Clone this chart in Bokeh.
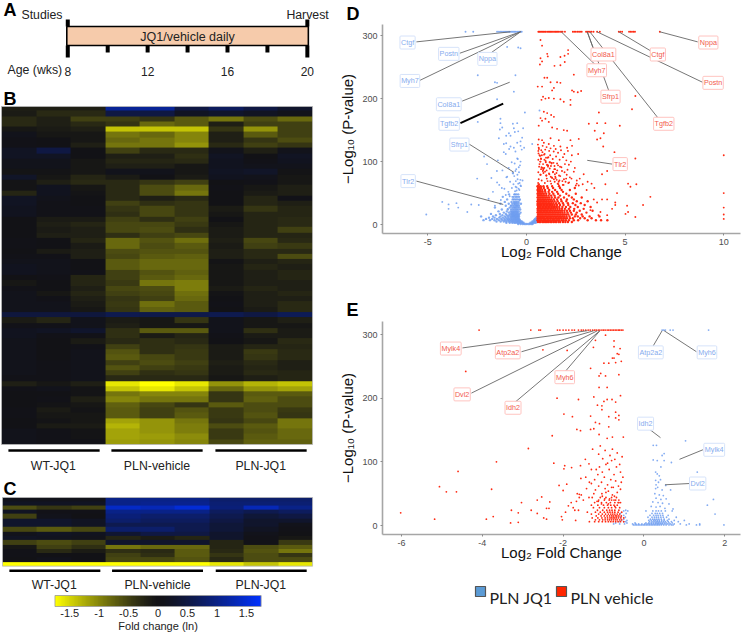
import numpy as np
from bokeh.plotting import figure
from bokeh.layouts import row, column
from bokeh.models import Range1d, Label, LinearColorMapper, FixedTicker
from bokeh.core.properties import value
from bokeh.embed import file_html
from bokeh.resources import INLINE

# ---------- A: timeline ----------
weeks_major = [8, 12, 16, 20]
weeks_minor = [10, 14, 18]
treatment = "JQ1/vehicle daily"

# ---------- B, C: heat maps (natural log fold change), top row first ----------
groups = ["WT-JQ1", "PLN-vehicle", "PLN-JQ1"]
heat_b = [
[-.2,-.2,-.2,1.1,1.1,.5,.7,.5,.3],[-.15,-.3,-.3,.5,.5,.2,.3,.2,.1],[-.3,-.2,-.5,-.5,-.4,-.7,-.9,-.6,-.8],
[-.3,-.2,-.3,-.4,-.8,-.7,-.2,-.5,-.5],[-.1,-.15,-.2,-1.4,-1.4,-1.4,-.4,-1.1,-.5],[.1,-.1,-.1,-.9,-.8,-1,-.2,-.7,-.5],
[.05,0,-.1,-.8,-.9,-1,-.2,-.4,-.6],[.05,0,-.2,-.9,-.9,-1.1,-.3,-.5,-.4],[.2,.5,0,-.5,-.3,-.3,.1,-.2,.1],
[.2,.2,0,-.2,-.2,-.35,.2,0,.2],[.1,.1,-.1,-.25,-.25,-.3,.15,.05,.15],[.1,.1,-.1,-.2,-.2,-.1,.15,.1,.1],
[-.05,-.05,-.1,.1,.1,-.1,.2,.25,-.05],[.25,-.1,-.25,-.15,0,-.15,.15,.1,-.1],[-.05,-.2,-.3,-.3,-.4,-.5,0,.05,-.1],
[-.05,.15,-.1,-.3,-.6,-.8,.05,-.1,-.2],[-.25,.15,-.05,-.3,-.6,-.9,0,-.15,-.2],[.2,.1,0,-.3,-.2,-.3,0,-.25,.05],
[.2,.05,0,-.5,-.35,-.4,0,-.25,-.2],[.15,.05,.05,-.4,-.55,-.4,-.15,-.4,-.25],[.15,.05,.05,-.35,-.55,-.4,-.1,-.25,-.25],
[0,-.15,-.15,-.5,-.35,-.5,0,-.25,-.3],[0,-.2,-.25,-.55,-.55,-.45,-.1,-.25,-.3],[0,-.15,-.2,-.55,-.6,-.35,-.15,-.25,-.5],
[0,-.2,-.2,-.35,-.5,-.55,-.15,-.25,-.25],[.05,0,-.25,-.8,-.65,-.85,-.2,-.55,-.3],[.05,0,-.15,-.8,-.6,-.7,-.15,-.5,-.45],
[0,-.15,-.2,-.6,-.65,-.65,-.2,-.3,-.3],[.05,.05,-.2,-.55,-.7,-.75,-.2,-.3,-.6],[.1,.1,0,-.7,-.8,-.8,-.05,-.2,-.25],
[.15,.1,0,-.7,-.8,-.8,-.1,-.25,-.2],[.15,.1,.05,-.5,-.65,-.75,-.1,-.2,-.25],[0,.05,-.25,-.5,-.7,-.8,-.1,-.2,-.25],
[-.1,0,-.25,-.45,-.9,-.95,-.1,-.2,-.2],[.05,0,-.2,-.55,-.6,-.95,-.15,-.25,-.2],[.1,-.1,-.25,-.5,-.55,-.85,-.05,-.2,-.25],
[.1,.05,-.2,-.4,-.5,-.8,0,-.2,-.2],[.1,.1,-.15,-.45,-.85,-.7,.05,-.2,-.3],[.1,.1,-.1,-.4,-.75,-.7,0,-.15,-.3],
[.45,.45,.45,.6,.55,.55,.6,.5,.65],[-.15,-.25,.1,-.15,-.1,-.4,.1,-.1,-.2],[.05,.05,.1,-.2,-.1,-.1,.1,-.1,-.1],
[.15,.2,.3,-.35,-.7,-.7,.1,-.35,-.15],[.15,.05,.05,-.35,-.15,-.25,.05,-.15,-.15],[.1,0,-.15,-.3,-.35,-.3,0,-.1,-.3],
[.1,0,.05,-.5,-.35,-.4,-.15,-.25,-.25],[.1,0,.1,-.65,-.35,-.45,-.15,-.45,-.3],[.1,0,.1,-.7,-.55,-.45,-.15,-.4,-.3],
[.1,.05,.1,-.5,-.6,-.5,-.2,-.3,-.2],[.1,.05,.1,-.65,-.5,-.45,-.15,-.25,-.2],[.1,.05,.1,-.5,-.35,-.4,-.15,-.3,-.25],
[.05,.05,.1,-.3,-.3,-.3,-.1,-.2,-.25],[-.2,-.1,-.2,-1.6,-1.75,-1.6,-1.1,-1.3,-1.4],[.05,.1,-.05,-1.4,-1.6,-1.4,-.8,-1.1,-1.2],
[0,0,-.05,-.9,-1,-1,-.4,-.7,-.7],[0,.05,-.2,-1,-.9,-.9,-.4,-.75,-.6],[0,-.05,-.1,-.75,-.55,-.4,-.7,-.6,-.6],
[.05,-.15,-.05,-.7,-.5,-.65,-.45,-.6,-.45],[.05,-.1,-.1,-.7,-.5,-.7,-.45,-.65,-.4],[0,-.05,-.1,-1.2,-1.1,-.9,-.4,-.55,-.9],
[0,-.15,-.15,-1.3,-1.1,-.95,-.6,-.7,-.9],[.1,.05,-.05,-1.2,-1.1,-.95,-.45,-.65,-.8],[.1,.05,-.05,-1.2,-1.15,-1.05,-.45,-.7,-.8],
[.1,.05,.05,-1.15,-1.1,-1,-.55,-.75,-.75],
]
heat_c = [
[.1,.1,.1,1,1,1,.8,.8,.8],[.2,.2,.2,1,1.05,1.05,.85,.85,.85],[-.6,-.4,-.5,1.4,1.3,1.5,.9,1.3,1],
[.2,.05,.05,1,1,1,.7,.6,.7],[-.5,.1,0,.9,.8,.8,.6,.4,.5],[.3,.3,.2,.8,.7,.7,.5,.3,.3],
[.3,.3,.2,.6,.6,.6,.4,.3,.1],[-.55,-.7,-.55,.8,.8,.6,.4,.2,.05],[.1,.2,.15,.35,.5,.5,.3,.1,0],
[.2,.15,.1,-.25,-.15,-.25,.3,.05,-.1],[-.5,-.6,-.5,.3,.3,.3,-.25,.05,-.45],[-.1,-.5,-.35,-.9,-.8,-.8,-.25,-.6,-.7],
[.05,-.3,-.15,-.35,-.3,-.7,-.3,-.65,-.9],[.05,0,0,-.5,-.35,-.7,-.4,-.6,-.4],[0,.1,0,-.55,-.55,-.65,-.3,-.6,-.6],
[-1.75,-1.75,-1.75,-1.75,-1.75,-1.75,-1.6,-1.4,-1.6],
]
scale_ticks = [-1.5, -1, -0.5, 0, 0.5, 1, 1.5]
scale_labels = ["-1.5", "-1", "-0.5", "0", "0.5", "1", "1.5"]

# ---------- D: PLN vehicle vs WT ----------
d_cap = 306
d_blue_top_x = [-3.09,-2.7,-1.49,-1.4,-1.33,-1.25,-1.18,-1.1,-1.04,-.98,-.9,-.85,-.78,-.72,-.66,-.6,-.55,-.48,-.42,-.36,-.3,-.24]
d_red_top_x = [.6,.65,.7,.76,.82,.87,.93,.98,1.05,1.11,1.17,1.22,1.28,1.34,1.4,1.46,1.51,1.57,1.63,1.7,1.76,1.83,1.95,2.35,2.42,2.5,2.58,2.66,2.72,2.8,3.02,3.08,3.16,3.22,3.3,3.4,3.58,3.72,4.68,4.76,4.85,5.2,5.28,5.35,5.43,5.5,6.76]
d_blue_x = [-.98,-.42,-.3,-2.47,-.56,-1.6,-1.49,-.64,-1.49,-2.47,-.08,.66,-1.32,-1.32,-1.23,-1.35,-.69,-.64,-.47,-.17,-.89,-1.03,-.81,-.59,-.42,-.22,-1.4,-1.03,-.3,.29,-.81,-.64,-1.15,-.47,-.3,-.12,-1.15,-2,-2.5,-1.5,-.56,-.39,-.47,-.3,-4.27,-3.95,-3.95,-3.55,-3.46,-5.08,-2.8,-2.42,-3,-1.92,-1.49,-.98,-.7,-.2,-1.7,-1.25,-.55,-.45,-.35,-.62,-.72,-.5,-.4,-1.05,-1.3,-.85,-.66,-.3,-.6,-.48,-.35,-.8,-.95,-1.6,-.92,-.58,-.36,-1.12,-.74,-.5,-.28,-1.38,-.66,-.42,-.83,-.54,-.31,-1.78,-1.02,-.62,-.46,-.68,-.38,-1.22,-.52,-.9,-.33,-.6,-.75,-1.45,-.44,-2.15,-1.05,-.56,-.24,-.88]
d_blue_y = [282,281,280,237,237,226,225,211,199,163,178,181,168,161,154,151,160,153,161,153,145,141,141,147,148,138,137,129,132,128,124,122,128,130,125,122,115,96,73,85,85,91,105,100,36,32,25,34,27,16,32,31,20,41,67,76,82,70,52,58,60,72,66,48,44,54,57,47,39,45,40,62,33,30,39,30,25,30,52,53,55,57,58,59,61,63,64,65,68,69,71,74,75,77,79,81,83,86,88,90,94,97,99,102,104,108,112,116,119,120]
d_red_x = [.71,.79,1.05,1.08,.71,.68,.79,1.72,1.93,2.11,2.11,1.94,1.72,1.42,2.4,.91,1.05,1.22,1.55,1.72,.57,.79,1.39,1.3,2.31,2.77,2.4,2.6,.84,.76,.96,1.13,1.39,1.72,1.89,2.23,2.23,5.52,5.35,3.67,.88,1.05,1.25,1.39,.71,.79,.96,.62,1.13,1.3,1.55,1.89,2.06,3.16,3.58,4,4.73,3.46,3.92,3.75,3.58,2.65,2.23,1.64,1.22,.79,.62,.88,1.13,1.39,1.72,2.06,2.31,3.89,10,10,10,10,10,5.52,5.57,5.15,5.27,6.28,4.59,4.5,4.5,3.83,4.09,4,3.41,5.1,5.91,5.15,5.52,5.02,4.09,3.83,3.58,3.24,3.65,4.09,3.75,4.34,2.55,2.65,3.05,3.44,4.46,.62,.75,.82,.95,1.02,1.15,1.22,1.38,1.48,1.6,1.75,1.92,2.1,2.3,2.62,.66,.78,.92,1.08,1.2,1.33,1.5,1.68,1.85,2.02,2.25,.6,.7,.84,.98,1.1,1.28,1.42,1.55,1.7,1.95,2.15,2.45,.64,.74,.9,1.02,1.18,1.35,1.52,1.8,2.08,2.4,2.9,.6,.72,.86,1,1.16,1.3,1.46,1.65,1.9,2.2,2.55,2.7,3.1,.62,.77,.93,1.07,1.25,1.43,1.62,1.84,2.12,2.5,2.85,3.3,
.58,.69,.81,.97,1.11,1.24,1.37,1.56,1.77,2.04,.63,.74,.89,1.04,1.19,1.41,1.6,1.93,2.28,.61,.71,.8,.99,1.14,1.27,1.48,1.71,1.98,.6,.66,.83,.91,1.09,1.23,1.45,1.67,2.16,.59,.73,.87,1.01,1.17,1.34,1.53,1.82,.64,.76,.94,1.06,1.29,1.44,1.63,2.01,.6,.7,.85,1.03,1.21,1.39,1.58,1.88]
d_red_y = [293,284,271,267,264,254,259,266,268,277,271,258,253,252,238,233,233,226,226,225,219,219,217,213,213,212,211,210,203,198,200,201,200,199,195,198,190,204,183,178,179,177,174,171,169,165,168,157,163,154,152,150,149,160,161,161,157,149,145,137,135,136,134,134,137,134,135,130,128,125,124,122,125,124,110,50,27,16,9,105,64,65,60,44,50,35,31,80,85,64,40,30,31,20,12,17,40,40,35,23,15,15,20,25,65,62,55,58,115,122,118,125,119,123,117,121,116,120,114,118,112,117,110,112,110,110,112,106,110,104,108,103,107,102,100,103,100,96,99,94,98,93,97,92,96,95,90,92,88,90,86,89,84,82,85,87,84,80,83,79,82,78,80,74,76,78,72,75,70,73,68,72,70,66,69,65,68,64,63,66,62,64,65,
127,109,115,101,107,93,98,86,91,79,120,104,111,95,99,88,94,83,73,113,100,90,106,81,97,74,77,68,117,96,85,103,92,76,88,70,67,66,105,89,78,99,83,71,69,64,91,84,94,75,80,68,73,63,79,87,73,69,72,65,63,62]
d_blue_rows = [
(1,[-.42,-.3,-.2,-.12,-.05,.02,.1,.17,.25,.31]),
(3,[-1.02,-.85,-.72,-.62,-.55,-.47,-.4,-.33,-.27,-.2,-.15,.2,.28,.33,.4,.47]),
(5,[-1.52,-1.31,-1.15,-1.02,-.9,-.8,-.72,-.66,-.58,-.5,-.44,-.37,-.3,-.24,.3,.38,.44,.52]),
(7,[-2.18,-1.85,-1.62,-1.4,-1.22,-1.08,-.95,-.85,-.76,-.68,-.6,-.53,-.46,-.4,-.33,.38,.47,.54]),
(9,[-2.05,-1.74,-1.5,-1.28,-1.12,-.98,-.88,-.78,-.7,-.63,-.56,-.5,-.43,-.37,.43,.52]),
(11,[-1.9,-1.62,-1.38,-1.2,-1.05,-.92,-.8,-.72,-.65,-.58,-.52,-.46,-.4,.5]),
(13,[-2.3,-1.7,-1.32,-1.1,-.95,-.82,-.74,-.68,-.62,-.56,-.5,-.44,-.38]),
(15,[-1.55,-1.22,-1,-.88,-.76,-.7,-.64,-.58,-.52,-.46,-.4]),
(17,[-1.8,-1.35,-1.05,-.82,-.74,-.68,-.62,-.56,-.5,-.44,-.36]),
(19,[-1.15,-.9,-.76,-.7,-.63,-.57,-.5,-.44,-.3]),
(21,[-1.42,-1,-.8,-.72,-.66,-.6,-.54,-.48,-.4]),
(24,[-1.25,-.95,-.78,-.7,-.62,-.55,-.49,-.42,-.32]),
(27,[-1.6,-.85,-.72,-.64,-.58,-.52,-.44,-.36]),
(30,[-1.05,-.78,-.68,-.6,-.53,-.46,-.38]),
(33,[-1.32,-.9,-.72,-.62,-.55,-.48,-.4,-.28]),
(36,[-1.1,-.76,-.64,-.56,-.49,-.4]),
(40,[-.98,-.7,-.6,-.52,-.44,-.34]),
(44,[-1.2,-.66,-.56,-.48,-.38]),
(48,[-.88,-.6,-.52,-.42]),
]
d_red_rows = [
(4,[.58,.66,.72,.81,.88,.95,1.03,1.1,1.2,1.27,1.36,1.45,1.52,1.63,1.71,1.85,1.97,2.1,2.3]),
(7,[.56,.63,.7,.77,.85,.92,.98,1.06,1.13,1.21,1.3,1.37,1.44,1.53,1.6,1.68,1.79,1.88,2,2.15,2.4,2.62,3.1,3.52,3.78,4.1]),
(10,[.57,.64,.71,.78,.84,.91,1,1.07,1.14,1.22,1.29,1.38,1.46,1.54,1.62,1.7,1.77,1.86,1.95,2.05,2.2,2.35,2.72,2.95,3.3]),
(13,[.56,.62,.69,.76,.83,.9,.97,1.04,1.12,1.19,1.26,1.34,1.42,1.5,1.58,1.66,1.74,1.83,1.92,2.03,2.18,2.45,2.6,2.85,3.2,3.7]),
(16,[.58,.65,.72,.79,.86,.94,1.01,1.09,1.16,1.24,1.32,1.4,1.48,1.56,1.64,1.72,1.81,1.9,2.01,2.12,2.3,2.5,2.8]),
(19,[.56,.63,.7,.77,.84,.92,.99,1.06,1.14,1.22,1.3,1.38,1.46,1.55,1.64,1.73,1.82,1.93,2.08,2.25,2.55,3.04]),
(22,[.57,.64,.71,.78,.86,.93,1,1.08,1.16,1.24,1.33,1.41,1.5,1.6,1.7,1.8,1.92,2.05,2.2,2.4,2.7,3.35]),
(25,[.56,.62,.69,.76,.83,.9,.98,1.05,1.13,1.21,1.29,1.38,1.47,1.57,1.68,1.8,1.95,2.15,2.42,2.9]),
(28,[.58,.65,.72,.8,.87,.95,1.02,1.1,1.18,1.26,1.35,1.44,1.54,1.66,1.82,2,2.22,2.6,3.25]),
(31,[.56,.63,.7,.77,.85,.92,1,1.08,1.16,1.24,1.33,1.43,1.55,1.7,1.88,2.12,2.48,2.95]),
(34,[.57,.64,.71,.79,.86,.94,1.02,1.1,1.18,1.27,1.37,1.5,1.65,1.85,2.1,2.35,2.75]),
(37,[.56,.63,.7,.78,.85,.93,1.01,1.1,1.2,1.3,1.42,1.58,1.78,2.02,2.55,3.1]),
(40,[.58,.65,.72,.8,.88,.96,1.05,1.14,1.25,1.38,1.55,1.75,2.05,2.4]),
(43,[.56,.63,.71,.79,.87,.95,1.04,1.15,1.28,1.45,1.62,1.9,2.3,2.8]),
(46,[.58,.66,.74,.82,.9,1,1.12,1.25,1.42,1.7,2.15]),
(49,[.56,.63,.7,.78,.88,1,1.16,1.36,1.6,2.02,2.5]),
(52,[.58,.65,.73,.82,.95,1.12,1.3,1.55,1.85]),
(55,[.56,.63,.7,.8,.94,1.15,1.45,1.78,2.2]),
(58,[.58,.65,.74,.88,1.08,1.35,1.7,2.45]),
(61,[.56,.63,.72,.86,1.05,1.3,1.65]),
]
d_labels_blue = ["Ctgf","Postn","Nppa","Myh7","Col8a1","Tgfb2","Sfrp1","Tlr2"]
d_lab_blue_x = [-6.03,-3.94,-1.98,-5.91,-3.94,-3.92,-3.4,-6]
d_lab_blue_y = [289,271,263,228,191,160,127,69]
d_seg_blue_x0 = [-5.58,-3.38,-1.87,-5.4,-3.26,-2.92,-5.58]
d_seg_blue_y0 = [290,272,271,229,196,128,69]
d_seg_blue_x1 = [-.81,-.3,-.3,-.3,-.85,-.64,-1.18]
d_seg_blue_y1 = [306,306,306,306,226,83,32]
d_thick_x0, d_thick_y0, d_thick_x1, d_thick_y1 = [-3.35], [161], [-1.18], [192]
d_labels_red = ["Col8a1","Ctgf","Nppa","Myh7","Postn","Sfrp1","Tgfb2","Tlr2"]
d_lab_red_x = [3.9,6.66,9.22,3.56,9.46,4.26,6.96,4.75]
d_lab_red_y = [270,270,289,245,225,203,160,96]
d_seg_red_x0 = [3.08,4.68,6.76,1.76,3.58,3.08,3.21,3.08]
d_seg_red_y0 = [306,306,306,306,306,306,306,102]
d_seg_red_x1 = [3.41,6.28,8.68,3.58,8.92,4.19,6.7,4.34]
d_seg_red_y1 = [278,276,290,251,226,211,168,96]

# ---------- E: PLN JQ1 vs PLN vehicle ----------
e_cap = 307
e_red_top_x = [-4.08,-2.8,-2.6,-2.56,-2.14,-2.08,-2,-1.93,-1.86,-1.78,-1.72,-1.62,-1.55,-1.5,-1.44,-1.38,-1.33,-1.27,-1.22,-1.18,-1.13,-1.09,-1.04,-1,-.96,-.91,-.87,-.83,-.79,-.75,-.71,-.67,-.63,-.6,-.56,-.52]
e_blue_top_x = [.45,.49,.53,.65,.72,1.6]
e_red_x = [-2.5,-1.9,-1.25,-1.2,-.95,-.74,-.74,-.59,-.66,-.62,-.74,-.78,-.99,-.87,-.7,-.56,-1.32,-1.07,-1.11,-.95,-.62,-4.41,-1.11,-.91,-2.15,-1.62,-1.24,-.58,-.99,-.91,-.79,-1.15,-1.04,-1.04,-.70,-.7,-.62,-1.98,-1.77,-1.32,-.87,-.7,-.62,-1.2,-1.1,-1.66,-1.57,-1.32,-1.24,-.87,-2.27,-1.11,-.78,-.91,-.51,
-6.02,-5.18,-5.06,-4.89,-4.64,-4.6,-3.65,-3.77,-3.73,-3.9,-2.86,-2.23,-3.3,-3.11,-3.28,-3.11,-3.03,-2.79,-2.64,-2.64,-2.53,-2.48,-2.41,-2.33,-2.35,-2.41,-2.1,-2,-1.91,-1.96,-1.98,-1.79,-2.04,-2.02,-1.69,-1.71,-1.94,-1.87,-1.67,-1.65,-1.6,-1.57,-1.56,-1.45,-1.44,-1.36,-1.35,-1.27,
-1.12,-1.08,-1.02,-.96,-.9,-.84,-.78,-.72,-.66,-.6,-.54,-1.18,-1.1,-1.03,-.94,-.86,-.8,-.74,-.68,-.58,-.52,-1.3,-1.22,-1.14,-1.05,-.98,-.9,-.82,-.76,-.7,-.63,-.56,-1.42,-1.3,-1.2,-1.12,-1.04,-.96,-.88,-.8,-.73,-.66,-.58,-1.55,-1.36,-1.24,-1.13,-1.03,-.94,-.85,-.78,-.7,-.62,-1.28,-1.16,-1.05,-.97,-.88,-.8,-.72,-.64]
e_red_y = [276,275,280,291,299,290,281,278,270,269,263,263,255,255,256,258,247,239,235,235,237,242,217,217,200,198,202,204,195,198,198,189,188,182,194,178,173,175,171,172,171,169,166,162,160,151,149,151,152,155,141,143,139,137,139,
20,10,61,53,53,85,100,57,14,10,121,98,4,5,24,20,36,24,19,40,45,12,27,37,27,10,63,55,65,94,89,91,14,9,8,24,21,31,38,50,49,94,74,104,76,97,68,120,
112,125,105,118,98,110,120,104,114,96,108,88,92,84,96,88,102,80,92,84,76,88,72,80,68,76,64,72,60,70,62,68,58,66,56,62,50,58,54,60,46,52,57,48,44,50,38,46,52,42,48,40,36,44,38,34,42,34,40,30,36]
e_red_rows = [
(6,[-1.35,-1.22,-1.12,-1.03,-.95,-.88,-.82,-.76,-.7,-.64,-.58,-.5]),
(9,[-1.2,-1.1,-1.02,-.96,-.9,-.85,-.8,-.75,-.7,-.66,-.6,-.55]),
(12,[-1.28,-1.14,-1.04,-.96,-.9,-.84,-.8,-.76,-.72,-.68,-.63,-.57,-.5]),
(15,[-1.18,-1.06,-.98,-.91,-.85,-.8,-.76,-.71,-.67,-.62,-.56]),
(18,[-1.3,-1.12,-1.03,-.95,-.88,-.82,-.77,-.72,-.66,-.6]),
(21,[-1.4,-1.2,-1.08,-.98,-.9,-.84,-.78,-.72,-.64,-.55]),
(24,[-1.62,-1.15,-1.02,-.92,-.85,-.79,-.72,-.62]),
(28,[-1.75,-1.25,-1.1,-.98,-.88,-.8,-.7,-.6]),
(32,[-1.3,-1.14,-1,-.9,-.82,-.74,-.66]),
(36,[-1.8,-1.22,-1.05,-.93,-.83,-.72,-.58]),
(40,[-1.5,-1.12,-.98,-.86,-.74,-.62]),
(44,[-1.6,-1.08,-.94,-.8,-.68]),
]
e_blue_x = [1.03,.23,.31,.5,.23,.33,.5,.68,.29,.33,1.32,.29,.41,.29,.54,.66,1.72,1.57,1.76,1.98,-.45,-.4,.45,.42,.38,.36,.3,.34,.45,.27,.38,.48,.3,.42,.55,.22,.35,.46,.62,.18,.3,.4,.52,.72]
e_blue_y = [133,126,126,113,103,102,102,99,84,81,84,71,72,58,63,56,41,32,18,1,24,23,110,92,78,68,64,60,56,50,48,47,43,41,42,37,36,35,34,30,29,30,27,26]
e_blue_rows = [
(1,[-.26,-.22,-.18,-.14,-.1,-.06,-.02,.02,.06,.1,.14,.18,.22,.26,.3,.34,.38,.43,.49,.55,.62,.68,.72,1.05,1.3,1.38]),
(2.5,[-.75,-.6,-.48,-.28,-.2,-.13,-.05,.02,.08,.13,.18,.23,.28,.33,.37,.42,.46,.52,.58,.65,.75,.9,1.12,1.38]),
(4,[-.7,-.42,-.22,.05,.12,.18,.23,.28,.32,.36,.4,.45,.5,.55,.62,.7]),
(6,[-.62,-.5,-.45,.14,.2,.25,.3,.34,.38,.43,.48,.53,.6,.68,.85]),
(8,[-.56,-.42,.12,.18,.24,.28,.33,.38,.44,.5,.58,.75,1]),
(10,[-.5,.16,.22,.27,.32,.37,.43,.5,.62]),
(13,[-.58,-.46,.1,.2,.26,.31,.36,.42,.48,.56,.8]),
(16,[-.5,.15,.24,.3,.35,.41,.47,.6]),
(19,[-.44,-.58,.2,.28,.33,.39,.46]),
(23,[-.5,.05,.22,.3,.36,.43,.53,.7]),
]
e_labels_red = ["Mylk4","Atp2a2","Myh6","Dvl2","Idh2"]
e_lab_red_x = [-4.78,-3.37,-1.96,-4.5,-3.24]
e_lab_red_y = [278,272,233,206,185]
e_seg_red_x0 = [-4.49,-3.03,-1.96,-4.27,-3.24]
e_seg_red_y0 = [279,273,241,208,191]
e_seg_red_x1 = [-1.4,-1.24,-1.09,-1.15,-1.09]
e_seg_red_y1 = [306,306,306,306,306]
e_labels_blue = ["Atp2a2","Myh6","Idh2","Mylk4","Dvl2"]
e_lab_blue_x = [.17,1.56,.04,1.74,1.33]
e_lab_blue_y = [272,272,160,119,66]
e_seg_blue_x0 = [.2,1.3,.1,1.46,1.13]
e_seg_blue_y0 = [279,273,153,119,66]
e_seg_blue_x1 = [.45,.5,.41,.88,.52]
e_seg_blue_y1 = [306,306,138,104,64]
legend_names = ["PLN JQ1", "PLN vehicle"]

# ---------- styles ----------
FONT = "Liberation Sans"
RED, BLUE = "#FF2A12", "#6E9DF0"
LAB_RED, LAB_BLUE = "#F25A4E", "#86ABEE"
EDGE_RED, EDGE_BLUE = "#FFC4C0", "#D6E3FA"

def lerp(a, b, n, gamma):
    out = []
    for k in range(n):
        t = (k / (n - 1)) ** gamma
        out.append(tuple(a[i] + (b[i] - a[i]) * t for i in range(3)))
    return out
mid = (18, 18, 22)
ramp = lerp(mid, (255, 255, 0), 128, 1.3)[::-1] + lerp(mid, (0, 50, 255), 128, 1.3)
palette = ["#%02x%02x%02x" % tuple(int(round(c)) for c in rgb) for rgb in ramp]
mapper = LinearColorMapper(palette=palette, low=-1.75, high=1.75)

def blank(p):
    p.xaxis.visible = False
    p.yaxis.visible = False
    p.grid.visible = False
    p.outline_line_color = None
    p.min_border = 0
    p.min_border_left = p.min_border_right = p.min_border_top = p.min_border_bottom = 0
    return p

def new_fig(w, h, xr, yr, **kw):
    return figure(width=w, height=h, x_range=Range1d(*xr), y_range=Range1d(*yr),
                  output_backend="svg", toolbar_location=None, **kw)

def expand(rows):
    xs, ys = [], []
    for y, row_x in rows:
        xs += row_x
        ys += [y] * len(row_x)
    return xs, ys

def letter(p, text, x, y):
    p.add_layout(Label(x=x, y=y, text=text, text_font=FONT, text_font_style="bold",
                       text_font_size="18px", text_color="black", text_baseline="alphabetic"))

# ---------- A ----------
pA = blank(new_fig(335, 90, (4.63, 21.41), (90, 0)))
pA.quad(left=[7.95], right=[20.05], top=[26], bottom=[45], fill_color="#F6CBAB", line_color="black", line_width=1.6)
ends = [weeks_major[0], weeks_major[-1]]
pA.segment(x0=ends, x1=ends, y0=[19, 19], y1=[26, 26], line_color="black", line_width=4)
pA.segment(x0=ends, x1=ends, y0=[45, 45], y1=[57, 57], line_color="black", line_width=4)
inner = weeks_major[1:-1] + weeks_minor
pA.segment(x0=inner, x1=inner, y0=[45] * 5, y1=[52] * 5, line_color="black", line_width=4)
pA.text(x=weeks_major, y=[71] * 4, text=[str(w) for w in weeks_major], text_align="center", text_baseline="alphabetic",
        text_font=value(FONT), text_font_size="12px", text_color="#222")
pA.text(x=[14.0], y=[36], text=[treatment], text_align="center", text_baseline="middle",
        text_font=value(FONT), text_font_size="12.5px", text_color="#222")
pA.text(x=[5.68, 4.98, 18.95], y=[14, 69, 14], text=["Studies", "Age (wks)", "Harvest"], text_baseline="alphabetic",
        text_font=value(FONT), text_font_size="12.3px", text_color="#222")
letter(pA, "A", 4.78, 9.5)

# ---------- B ----------
hb = np.flipud(np.array(heat_b, dtype=float))
ub, rb = 34.56, 5.28
pB = blank(new_fig(335, 386, (-1 / ub, 334 / ub), (-32 / rb, 64 + 16 / rb)))
pB.image(image=[hb], x=0, y=0, dw=9, dh=64, color_mapper=mapper)
pB.quad(left=[0], right=[9], bottom=[0], top=[64], fill_color=None, line_color="#b8b8b8", line_width=0.8)
bar_x0 = [.2, 3.18, 6.19]
bar_x1 = [2.84, 5.82, 8.83]
pB.segment(x0=bar_x0, x1=bar_x1, y0=[-1.14] * 3, y1=[-1.14] * 3, line_color="black", line_width=2.5)
pB.text(x=[1.5, 4.5, 7.5], y=[-4.1] * 3, text=groups, text_align="center", text_baseline="alphabetic",
        text_font=value(FONT), text_font_size="12.3px", text_color="#222")
letter(pB, "B", 2 / ub, 64 + 8 / rb)

# ---------- C ----------
hc = np.flipud(np.array(heat_c, dtype=float))
uc, rc = 34.45, 4.29
pC = blank(new_fig(335, 116, (-2 / uc, 333 / uc), (-26.3 / rc, 16 + 21 / rc)))
pC.image(image=[hc], x=0, y=0, dw=9, dh=16, color_mapper=mapper)
pC.quad(left=[0], right=[9], bottom=[0], top=[16], fill_color=None, line_color="#b8b8b8", line_width=0.8)
pC.segment(x0=bar_x0, x1=bar_x1, y0=[-1.05] * 3, y1=[-1.05] * 3, line_color="black", line_width=2.5)
pC.text(x=[1.5, 4.5, 7.5], y=[-4.35] * 3, text=groups, text_align="center", text_baseline="alphabetic",
        text_font=value(FONT), text_font_size="12.3px", text_color="#222")
letter(pC, "C", 1 / uc, 16 + 9 / rc)

# ---------- colour scale ----------
pS = blank(new_fig(335, 40, (-2.675, 3.013), (0, 40)))
pS.image(image=[np.linspace(-1.75, 1.75, 256).reshape(1, -1)], x=-1.75, y=26, dw=3.5, dh=11, color_mapper=mapper)
pS.quad(left=[-1.75], right=[1.75], bottom=[26], top=[37], fill_color=None, line_color="#999999", line_width=0.8)
pS.text(x=scale_ticks, y=[20] * 7, text=scale_labels, text_align="center", text_baseline="middle",
        text_font=value(FONT), text_font_size="11px", text_color="#222")
pS.text(x=[0], y=[6.5], text=["Fold change (ln)"], text_align="center", text_baseline="middle",
        text_font=value(FONT), text_font_size="11px", text_color="#222")

# ---------- volcano helper ----------
def volcano(panel, tstand, h, xr, yr, ml, mt, mb, xticks, yticks, xstand):
    p = new_fig(406, h, xr, yr, min_border_left=ml, min_border_right=1, min_border_top=mt, min_border_bottom=mb)
    p.title.text = panel
    p.title.align = "left"
    p.title.offset = -36
    p.title.standoff = tstand
    p.title.text_font = FONT
    p.title.text_font_style = "bold"
    p.title.text_font_size = "18px"
    p.title.text_color = "black"
    p.grid.visible = False
    p.outline_line_color = None
    p.xaxis.ticker = FixedTicker(ticks=xticks)
    p.yaxis.ticker = FixedTicker(ticks=yticks)
    p.xaxis.major_label_overrides = {t: str(t) for t in xticks}
    p.xaxis.axis_label = "Log\u2082 Fold Change"
    p.yaxis.axis_label = "\u2212Log\u2081\u2080 (P-value)"
    for a in (p.xaxis[0], p.yaxis[0]):
        a.axis_line_color = "#a6a6a6"
        a.axis_line_width = 1.6
        a.major_tick_line_color = "#8c8c8c"
        a.major_tick_in = 0
        a.major_tick_out = 2
        a.minor_tick_line_color = None
        a.major_label_text_font = FONT
        a.major_label_text_font_size = "9px"
        a.major_label_text_color = "#4d4d4d"
        a.major_label_standoff = 3
        a.axis_label_text_font = FONT
        a.axis_label_text_font_style = "normal"
        a.axis_label_text_font_size = "15px"
        a.axis_label_text_color = "#111"
    p.xaxis[0].axis_label_standoff = xstand
    p.yaxis[0].axis_label_standoff = 3
    return p

def dots(p, xs, ys, color, alpha=1.0, size=1.9):
    p.scatter(xs, ys, marker="circle", size=size, fill_color=color, line_color=None, fill_alpha=alpha)

def tags(p, names, xs, ys, tc, ec):
    for n, x, y in zip(names, xs, ys):
        p.add_layout(Label(x=x, y=y, text=n, text_font=FONT, text_font_size="7.2px", text_color=tc,
                           text_align="center", text_baseline="middle", background_fill_color="white",
                           border_line_color=ec, border_line_width=1, padding=(1, 2), border_radius=1))

# ---------- D ----------
pD = volcano("D", 2, 296, (-7.30, 10.85), (-14.15, 317.6), 47, 19, 63, [-5, 0, 5, 10], [0, 100, 200, 300], -5)
bx, by = expand(d_blue_rows)
rx, ry = expand(d_red_rows)
dots(pD, bx, by, BLUE, 0.85, 2.4)
dots(pD, d_blue_x, d_blue_y, BLUE, 0.85)
dots(pD, d_blue_top_x, [d_cap] * len(d_blue_top_x), BLUE, 0.85)
dots(pD, rx, ry, RED, 1, 2.4)
dots(pD, d_red_x, d_red_y, RED)
dots(pD, d_red_top_x, [d_cap] * len(d_red_top_x), RED)
pD.segment(x0=d_seg_blue_x0, y0=d_seg_blue_y0, x1=d_seg_blue_x1, y1=d_seg_blue_y1, line_color="#666", line_width=0.9)
pD.segment(x0=d_seg_red_x0, y0=d_seg_red_y0, x1=d_seg_red_x1, y1=d_seg_red_y1, line_color="#666", line_width=0.9)
pD.segment(x0=d_thick_x0, y0=d_thick_y0, x1=d_thick_x1, y1=d_thick_y1, line_color="black", line_width=2)
tags(pD, d_labels_blue, d_lab_blue_x, d_lab_blue_y, LAB_BLUE, EDGE_BLUE)
tags(pD, d_labels_red, d_lab_red_x, d_lab_red_y, LAB_RED, EDGE_RED)

# ---------- E ----------
pE = volcano("E", 3, 270, (-6.47, 2.39), (-14.1, 320.5), 47, 24, 32, [-6, -4, -2, 0, 2], [0, 100, 200, 300], -5)
bx, by = expand(e_blue_rows)
rx, ry = expand(e_red_rows)
dots(pE, bx + e_blue_x, by + e_blue_y, BLUE, 0.85, 1.8)
dots(pE, e_blue_top_x, [e_cap] * len(e_blue_top_x), BLUE, 0.85, 1.8)
dots(pE, rx + e_red_x, ry + e_red_y, RED, 1, 1.8)
dots(pE, e_red_top_x, [e_cap] * len(e_red_top_x), RED, 1, 1.8)
pE.segment(x0=e_seg_red_x0, y0=e_seg_red_y0, x1=e_seg_red_x1, y1=e_seg_red_y1, line_color="#666", line_width=0.9)
pE.segment(x0=e_seg_blue_x0, y0=e_seg_blue_y0, x1=e_seg_blue_x1, y1=e_seg_blue_y1, line_color="#666", line_width=0.9)
tags(pE, e_labels_red, e_lab_red_x, e_lab_red_y, LAB_RED, EDGE_RED)
tags(pE, e_labels_blue, e_lab_blue_x, e_lab_blue_y, LAB_BLUE, EDGE_BLUE)

# ---------- legend ----------
pL = new_fig(406, 66, (382, 740), (632, 566), min_border_left=47, min_border_right=1, min_border_top=0, min_border_bottom=0)
pL.xaxis.visible = False
pL.yaxis.visible = False
pL.grid.visible = False
pL.outline_line_color = None
pL.rect(x=[480, 561], y=[591, 591], width=10, height=10, fill_color=["#5B9BD5", "#FF2600"], line_color="#555", line_width=1.2)
pL.text(x=[489, 570], y=[597, 597], text=legend_names, text_baseline="alphabetic",
        text_font=value("Lato"), text_font_size="16px", text_color="#222")

left = column(pA, pB, pC, pS, spacing=0)
right = column(pD, pE, pL, spacing=0)
root = row(left, right, spacing=0, styles={"position": "absolute", "left": "0px", "top": "0px"})
open("out.html", "w").write(file_html(root, INLINE))
